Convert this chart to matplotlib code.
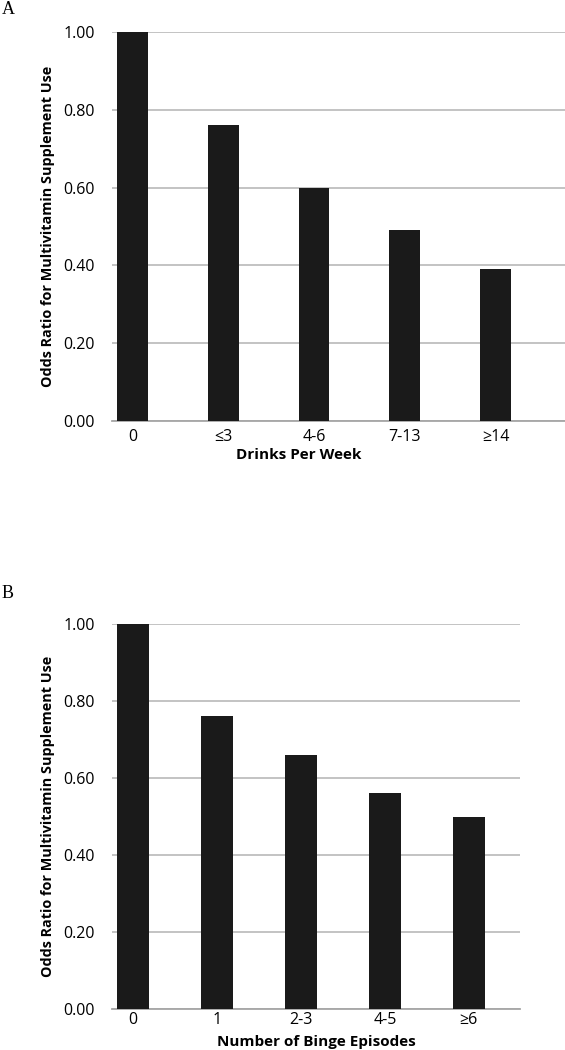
import matplotlib
matplotlib.use('Agg')
import matplotlib.pyplot as plt

plt.rcParams['font.family'] = ['Open Sans', 'DejaVu Sans']

# panel A: drinks per week
drinks_cats = ['0', '≤3', '4-6', '7-13', '≥14']
drinks_or = [1.00, 0.76, 0.60, 0.49, 0.39]

# panel B: binge episodes
binge_cats = ['0', '1', '2-3', '4-5', '≥6']
binge_or = [1.00, 0.76, 0.66, 0.56, 0.50]

yticks = [0.0, 0.2, 0.4, 0.6, 0.8, 1.0]
ylabel = 'Odds Ratio for Multivitamin Supplement Use'

W, H = 565, 1050
fig = plt.figure(figsize=(W / 100, H / 100), dpi=100)


def panel(rect, cats, vals, xlabel, xlab_xy, xlim, width, xpad):
    l, t, r, b = rect
    ax = fig.add_axes([l / W, 1 - b / H, (r - l) / W, (b - t) / H])
    x = range(len(cats))
    ax.bar(x, vals, width=width, color='#1a1a1a', zorder=3)
    ax.set_xlim(*xlim)
    ax.set_ylim(0, 1.0)
    ax.set_yticks(yticks)
    ax.set_yticklabels(['%.2f' % v for v in yticks], fontsize=11.5)
    ax.set_xticks(list(x))
    ax.set_xticklabels(cats, fontsize=11.5)
    ax.tick_params(length=0, pad=12.5, axis='y')
    ax.tick_params(length=0, pad=xpad, axis='x')
    ax.yaxis.grid(True, color='#b3b3b3', linewidth=1.1, zorder=0)
    for s in ['top', 'right', 'left']:
        ax.spines[s].set_visible(False)
    ax.spines['bottom'].set_color('#a6a6a6')
    ax.spines['bottom'].set_linewidth(1.3)
    # axis titles placed as figure text
    fig.text(xlab_xy[0] / W, 1 - xlab_xy[1] / H, xlabel, fontsize=11,
             fontweight='bold', ha='center', va='center')
    fig.text(48 / W, 1 - (t + b) / 2 / H, ylabel, fontsize=10.4,
             fontweight='bold', rotation=90, ha='center', va='center')
    return ax


panel((112, 32, 565, 421), drinks_cats, drinks_or, 'Drinks Per Week',
      (299, 455), (-0.226, 4.766), 0.34, 5.5)
panel((112, 624, 520, 1009), binge_cats, binge_or, 'Number of Binge Episodes',
      (316, 1042), (-0.25, 4.61), 0.38, 2.5)

fig.text(2 / W, 1 - 9 / H, 'A', family='Liberation Serif', fontsize=13,
         va='center', ha='left')
fig.text(2 / W, 1 - 593 / H, 'B', family='Liberation Serif', fontsize=13,
         va='center', ha='left')

fig.savefig('out.png', dpi=100)
